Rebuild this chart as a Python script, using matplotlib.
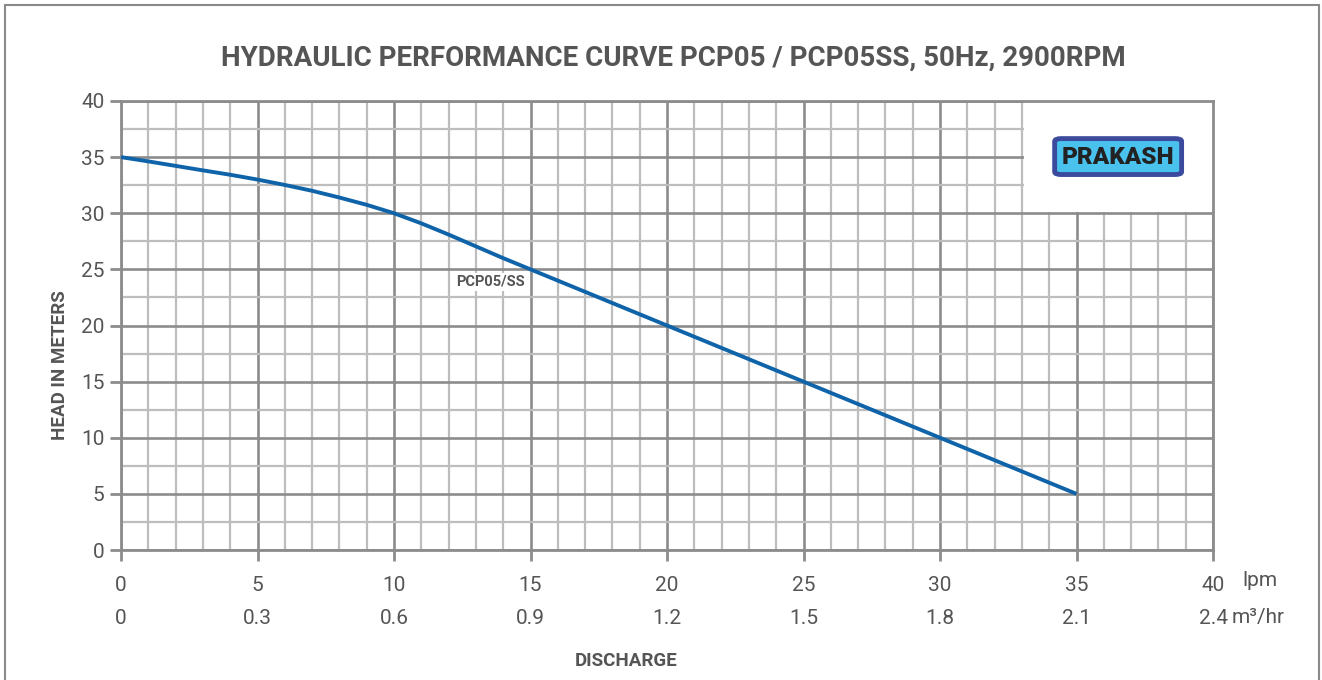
import matplotlib
matplotlib.use("Agg")
import matplotlib.pyplot as plt
from matplotlib.patches import Rectangle, FancyBboxPatch
import numpy as np

# ---- data ----
flow_lpm = [0, 1, 2, 3, 4, 5, 6, 7, 8, 9, 10, 11, 12, 13, 14, 15, 20, 25, 30, 35]
head_m = [35, 34.62, 34.22, 33.82, 33.43, 33.0, 32.52, 32.0, 31.4, 30.75, 30.0,
          29.1, 28.1, 27.05, 26.0, 25, 20, 15, 10, 5]
x_ticks = [0, 5, 10, 15, 20, 25, 30, 35, 40]
x_labels_lpm = ['0', '5', '10', '15', '20', '25', '30', '35', '40']
x_labels_m3 = ['0', '0.3', '0.6', '0.9', '1.2', '1.5', '1.8', '2.1', '2.4']
y_ticks = [0, 5, 10, 15, 20, 25, 30, 35, 40]
title = "HYDRAULIC PERFORMANCE CURVE PCP05 / PCP05SS, 50Hz, 2900RPM"
series_label = "PCP05/SS"

plt.rcParams['font.family'] = ['Roboto', 'DejaVu Sans']

W, H = 1322, 680
fig = plt.figure(figsize=(W / 100, H / 100), dpi=100)
fig.patch.set_facecolor('white')

# outer frame
fig.patches.append(Rectangle((5 / W, -0.05), (1319 - 5) / W, 1 - 5 / H + 0.05,
                             transform=fig.transFigure, fill=False,
                             edgecolor='#8a8a8a', linewidth=1.5))

ax = fig.add_axes([121 / W, 1 - 550 / H, (1213 - 121) / W, (550 - 101) / H])
ax.set_xlim(0, 40)
ax.set_ylim(0, 40)

major_c = '#8c8c8c'
minor_c = '#bdbdbd'
text_c = '#555555'
ax.set_xticks(x_ticks)
ax.set_xticks(np.arange(0, 41, 1), minor=True)
ax.set_yticks(y_ticks)
ax.set_yticks(np.arange(0, 41, 2.5), minor=True)
ax.grid(which='minor', color=minor_c, linewidth=1.6, zorder=0)
ax.grid(which='major', color=major_c, linewidth=1.9, zorder=0)
ax.set_axisbelow(True)
for s in ax.spines.values():
    s.set_color(major_c)
    s.set_linewidth(2)

ax.tick_params(which='major', direction='out', length=8, width=2, color=major_c,
               labelsize=15, labelcolor=text_c, pad=4)
ax.tick_params(which='minor', length=0)
ax.set_yticklabels([str(v) for v in y_ticks])
ax.set_xticklabels(x_labels_lpm)
ax.tick_params(axis='x', pad=11)

# second row of x labels
xt = ax.get_xaxis_transform()
for xv, lab in zip(x_ticks, x_labels_m3):
    ax.text(xv, -(618 - 550) / (550 - 101), lab, transform=xt, ha='center',
            va='center', fontsize=15, color=text_c)
fig.text(1260 / W, 1 - 580 / H, 'lpm', ha='center', va='center', fontsize=15,
         color=text_c)
fig.text(1258 / W, 1 - 618 / H, 'm³/hr', ha='center', va='center', fontsize=15,
         color=text_c)

# white logo box
ax.add_patch(Rectangle((33.06, 30.08), 40 - 33.06, 9.9, facecolor='white',
                       edgecolor='none', zorder=1))
logo = FancyBboxPatch((34.2, 33.45), 4.65, 3.2,
                      boxstyle="round,pad=0,rounding_size=0.25",
                      facecolor='#49c2ee', edgecolor='#3b4a9c', linewidth=3.5,
                      zorder=3)
ax.add_patch(logo)
ax.text(36.52, 35.0, 'PRAKASH', ha='center', va='center', fontsize=17.5,
        fontweight='black', color='#222222', zorder=4)

# curve
ax.plot(flow_lpm, head_m, color='#0f63a8', linewidth=2.8, zorder=5,
        solid_capstyle='butt', solid_joinstyle='round')
ax.text(13.55, 23.9, series_label, ha='center', va='center', fontsize=10.5,
        fontweight='bold', color=text_c, zorder=6,
        bbox=dict(facecolor='white', edgecolor='none', pad=1.5))

fig.text(673 / W, 1 - 58 / H, title, ha='center', va='center', fontsize=20,
         fontweight='bold', color=text_c)
fig.text(60 / W, 1 - 365 / H, 'HEAD IN METERS', ha='center', va='center',
         rotation=90, fontsize=13.5, fontweight='bold', color=text_c)
fig.text(626 / W, 1 - 661 / H, 'DISCHARGE', ha='center', va='center',
         fontsize=13.5, fontweight='bold', color=text_c)

fig.savefig('out.png', dpi=100)
